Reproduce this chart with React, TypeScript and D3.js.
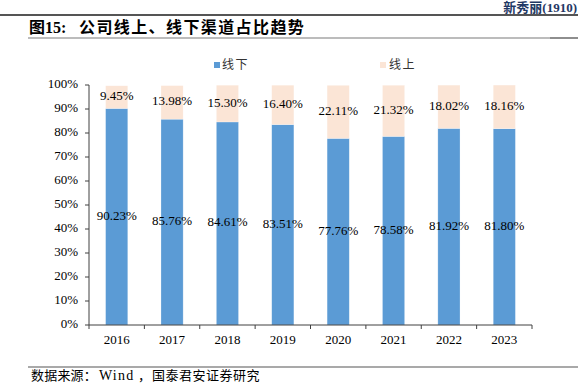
import React from "react";
import * as d3 from "d3";

const years = ["2016", "2017", "2018", "2019", "2020", "2021", "2022", "2023"];
const offline = [90.23, 85.76, 84.61, 83.51, 77.76, 78.58, 81.92, 81.8];
const online = [9.45, 13.98, 15.3, 16.4, 22.11, 21.32, 18.02, 18.16];
const yTicks = [0, 10, 20, 30, 40, 50, 60, 70, 80, 90, 100];
const seriesNames = ["线下", "线上"];
const colors = ["#5B9BD5", "#FBE5D6"];

const W = 583;
const H = 387;
const serif = "'Liberation Serif', 'Times New Roman', 'Noto Sans CJK SC', serif";

export default function App() {
  const x = d3.scaleBand<string>().domain(years).range([89, 532]).paddingInner(0.6).paddingOuter(0.3);
  const y = d3.scaleLinear().domain([0, 100]).range([325, 85]);
  const boundaries = d3.range(years.length + 1).map((i) => 89 + (443 / years.length) * i);

  const rows = years.map((yr, i) => ({ year: yr, off: offline[i], on: online[i] }));
  const stack = d3.stack<any>().keys(["off", "on"])(rows);

  return (
    <div style={{ margin: 0, position: "absolute", left: 0, top: 0 }}>
      <svg width={W} height={H} style={{ display: "block", background: "#fff" }}>
        {/* header */}
        <text x={577} y={11.5} textAnchor="end" fontFamily={serif} fontWeight="bold" fontSize={13} fill="#1F3864">
          新秀丽(1910)
        </text>
        <line x1={0} x2={578} y1={15} y2={15} stroke="#555" strokeWidth={2} />
        <text x={29} y={32.5} fontFamily={serif} fontWeight="bold" fontSize={16} fill="#000">
          图15:
        </text>
        <text x={79} y={32.5} fontFamily={serif} fontWeight="bold" fontSize={16} fill="#000" letterSpacing={1.4}>
          公司线上、线下渠道占比趋势
        </text>
        <line x1={28} x2={578} y1={38} y2={38} stroke="#A6A6A6" strokeWidth={1.5} />
        <line x1={550} x2={578} y1={38} y2={38} stroke="#7F7F7F" strokeWidth={1.5} />

        {/* legend */}
        <rect x={214} y={62} width={6} height={6} fill={colors[0]} />
        <text x={222} y={66} dominantBaseline="middle" fontFamily={serif} fontSize={12} fill="#333" letterSpacing={1.5}>
          {seriesNames[0]}
        </text>
        <rect x={380} y={62} width={6} height={6} fill={colors[1]} />
        <text x={389} y={66} dominantBaseline="middle" fontFamily={serif} fontSize={12} fill="#333" letterSpacing={1.5}>
          {seriesNames[1]}
        </text>

        {/* bars */}
        {stack.map((s, si) =>
          s.map((d, i) => (
            <rect
              key={`${si}-${i}`}
              x={x(years[i])}
              y={y(d[1])}
              width={x.bandwidth()}
              height={y(d[0]) - y(d[1])}
              fill={colors[si]}
              stroke="#fff"
              strokeOpacity={0.4}
              strokeWidth={0.6}
            />
          ))
        )}
        {/* labels */}
        {stack.map((s, si) =>
          s.map((d, i) => (
            <text
              key={`l-${si}-${i}`}
              x={(x(years[i]) as number) + x.bandwidth() / 2}
              y={y((d[0] + d[1]) / 2)}
              textAnchor="middle"
              dominantBaseline="middle"
              fontFamily={serif}
              fontSize={13}
              fill="#000"
            >
              {(si === 0 ? offline[i] : online[i]).toFixed(2)}%
            </text>
          ))
        )}

        {/* y axis */}
        <line x1={89} x2={89} y1={85} y2={325} stroke="#404040" strokeWidth={1} />
        {yTicks.map((t) => (
          <g key={t}>
            <line x1={85} x2={89} y1={y(t)} y2={y(t)} stroke="#404040" strokeWidth={1} />
            <text x={78} y={y(t)} textAnchor="end" dominantBaseline="middle" fontFamily={serif} fontSize={13} fill="#000">
              {t}%
            </text>
          </g>
        ))}

        {/* x axis */}
        <line x1={89} x2={532} y1={325} y2={325} stroke="#404040" strokeWidth={1} />
        {boundaries.map((bx, i) => (
          <line key={i} x1={bx} x2={bx} y1={325} y2={329} stroke="#404040" strokeWidth={1} />
        ))}
        {years.map((yr) => (
          <text
            key={yr}
            x={(x(yr) as number) + x.bandwidth() / 2}
            y={341}
            textAnchor="middle"
            dominantBaseline="middle"
            fontFamily={serif}
            fontSize={13}
            fill="#000"
          >
            {yr}
          </text>
        ))}

        {/* footer */}
        <line x1={28} x2={578} y1={367} y2={367} stroke="#555" strokeWidth={1.2} />
        <text x={31} y={379.5} fontFamily={serif} fontSize={13} fill="#000" letterSpacing={0.2}>
          数据来源：
        </text>
        <text x={99} y={379.5} fontFamily={serif} fontSize={14} fill="#000" letterSpacing={1.2}>
          Wind
        </text>
        <text x={138} y={379.5} fontFamily={serif} fontSize={13} fill="#000">
          ，
        </text>
        <text x={152} y={379.5} fontFamily={serif} fontSize={13} fill="#000" letterSpacing={0.5}>
          国泰君安证券研究
        </text>
      </svg>
    </div>
  );
}
